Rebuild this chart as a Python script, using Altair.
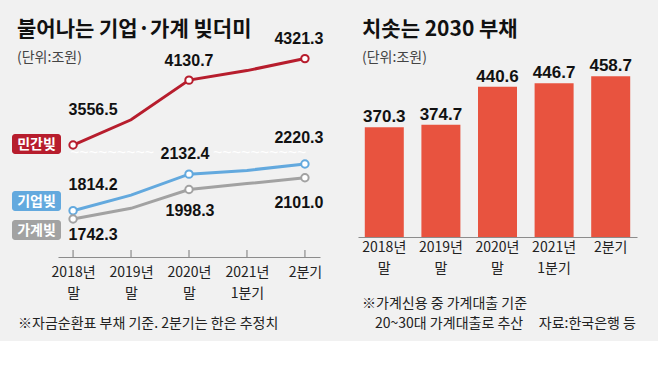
import altair as alt
import pandas as pd

# ---------------- data ----------------
categories = ["2018년 말", "2019년 말", "2020년 말", "2021년 1분기", "2분기"]
series_names = ["민간빚", "기업빚", "가계빚"]
private_debt = [3556.5, 3780.0, 4130.7, 4215.0, 4321.3]     # 민간빚
corp_debt = [1814.2, 1950.0, 2132.4, 2165.0, 2220.3]        # 기업빚
household_debt = [1742.3, 1835.0, 1998.3, 2050.0, 2101.0]   # 가계빚
marked_categories = ["2018년 말", "2020년 말", "2분기"]
youth_debt = [370.3, 374.7, 440.6, 446.7, 458.7]            # 2030 부채

left_title = "불어나는 기업·가계 빚더미"
right_title = "치솟는 2030 부채"
unit_text = "(단위:조원)"
left_note = "※자금순환표 부채 기준. 2분기는 한은 추정치"
right_note_1 = "※가계신용 중 가계대출 기준"
right_note_2 = "20~30대 가계대출로 추산"
source_text = "자료:한국은행 등"

# ---------------- styles ----------------
BG = "#f1f1f1"
COLORS = {"민간빚": "#b71d2d", "기업빚": "#63a9de", "가계빚": "#a2a2a2"}
BAR = "#e8533f"
KFONT = "Noto Sans CJK KR"
NFONT = "Liberation Sans"
AXIS_COLOR = "#8c8c8c"

line_df = pd.DataFrame({
    "cat": categories * 3,
    "series": [s for s in series_names for _ in categories],
    "value": private_debt + corp_debt + household_debt,
})
line_df["label"] = line_df["value"].map(lambda v: f"{v:.1f}")
cat_df = pd.DataFrame({"cat": categories})
bar_df = pd.DataFrame({"cat": categories, "value": youth_debt})
bar_df["label"] = bar_df["value"].map(lambda v: f"{v:.1f}")

upper_scale = dict(domain=[2600, 4500], range=[253.1, 38.4], nice=False, zero=False)
lower_scale = dict(domain=[1400, 2600], range=[258.3, 120.4], nice=False, zero=False)
series_scale = {"민간빚": upper_scale, "기업빚": lower_scale, "가계빚": lower_scale}

label_offsets = {
    ("민간빚", "2018년 말"): (20, -35), ("민간빚", "2020년 말"): (0, -19), ("민간빚", "2분기"): (-6, -20),
    ("기업빚", "2018년 말"): (20, -26), ("기업빚", "2020년 말"): (-4, -20), ("기업빚", "2분기"): (-6, -26),
    ("가계빚", "2018년 말"): (20, 16), ("가계빚", "2020년 말"): (1, 21), ("가계빚", "2분기"): (-6, 25),
}
legend_boxes = {"민간빚": (134, 154), "기업빚": (191, 211), "가계빚": (220, 240)}
wave_segments = [(70, 9), (213, 10)]   # (start x, number of wave periods) of the axis-break mark


def axis_def(offset, pad):
    return alt.Axis(title=None, orient="bottom", offset=offset, domainColor=AXIS_COLOR,
                    domainWidth=1.2, ticks=False, grid=False, labelAngle=0,
                    labelExpr="split(datum.label, ' ')", labelFont=KFONT, labelFontSize=14,
                    labelColor="#222222", labelPadding=pad, labelLineHeight=21,
                    labelBaseline="top", labelOverlap=False, labelFlush=False)


def left_x():
    return alt.X("cat:N", sort=categories,
                 scale=alt.Scale(type="point", range=[58, 320], padding=0.26),
                 axis=axis_def(-84, 8))


def right_x():
    return alt.X("cat:N", sort=categories,
                 scale=alt.Scale(type="band", range=[28, 307], paddingInner=0.311, paddingOuter=0.12),
                 axis=axis_def(-104, 3))


def text_layer(txt, x, y, size=13, weight="normal", color="#333333", align="left", font=KFONT):
    return alt.Chart(pd.DataFrame({"t": [txt]})).mark_text(
        align=align, baseline="alphabetic", font=font, fontSize=size, fontWeight=weight, color=color
    ).encode(text="t:N", x=alt.value(x), y=alt.value(y))


# ---------------- left panel ----------------
left_layers = [
    text_layer(left_title, 17, 36, size=21, weight="bold", color="#111111"),
    text_layer(unit_text, 17, 62, size=14, color="#444444"),
    text_layer(left_note, 18, 328, size=14, color="#222222"),
    alt.Chart(cat_df).mark_rule(color=AXIS_COLOR, strokeWidth=1.2).encode(
        x=left_x(), y=alt.value(250), y2=alt.value(257)),
]
for x0, n in wave_segments:
    left_layers.append(alt.Chart(pd.DataFrame({"t": ["~" * n]})).mark_text(
        align="left", baseline="middle", font=NFONT, fontSize=16, color="white"
    ).encode(text="t:N", x=alt.value(x0), y=alt.value(153)))

for s in series_names:
    sc = alt.Scale(**series_scale[s])
    base = alt.Chart(line_df).transform_filter(alt.datum.series == s)
    left_layers.append(base.mark_line(color=COLORS[s], strokeWidth=3).encode(
        x=left_x(), y=alt.Y("value:Q", scale=sc, axis=None)))
    left_layers.append(base.transform_filter(
        alt.FieldOneOfPredicate(field="cat", oneOf=marked_categories)
    ).mark_point(shape="circle", filled=True, fill="white", stroke=COLORS[s], strokeWidth=2,
                 size=55, opacity=1).encode(
        x=left_x(), y=alt.Y("value:Q", scale=sc, axis=None)))
    for c in marked_categories:
        dx, dy = label_offsets[(s, c)]
        left_layers.append(base.transform_filter(alt.datum.cat == c).mark_text(
            font=NFONT, fontWeight="bold", fontSize=16, color="#111111",
            baseline="middle", align="center", dx=dx, dy=dy
        ).encode(x=left_x(), y=alt.Y("value:Q", scale=sc, axis=None), text="label:N"))

for s in series_names:
    y0, y1 = legend_boxes[s]
    left_layers.append(alt.Chart(pd.DataFrame({"t": [s]})).mark_rect(
        color=COLORS[s], cornerRadius=3).encode(
        x=alt.value(12), x2=alt.value(61), y=alt.value(y0), y2=alt.value(y1)))
    left_layers.append(alt.Chart(pd.DataFrame({"t": [s]})).mark_text(
        font=KFONT, fontWeight="bold", fontSize=14, color="white", align="center", baseline="middle"
    ).encode(text="t:N", x=alt.value(36.5), y=alt.value((y0 + y1) / 2 + 1)))

left = alt.layer(*left_layers).properties(width=330, height=341).resolve_scale(y="independent")

# ---------------- right panel ----------------
ys = alt.Scale(domain=[180, 480], range=[237, 64], nice=False, zero=False)
right_layers = [
    text_layer(right_title, 32, 36, size=21, weight="bold", color="#111111"),
    text_layer(unit_text, 32, 62, size=14, color="#444444"),
    alt.Chart(bar_df).mark_bar(color=BAR).encode(
        x=right_x(), y=alt.Y("value:Q", scale=ys, axis=None), y2=alt.datum(180)),
    alt.Chart(bar_df).mark_text(font=NFONT, fontWeight="bold", fontSize=17, color="#111111",
                                baseline="alphabetic", dy=-5).encode(
        x=right_x(), y=alt.Y("value:Q", scale=ys, axis=None), text="label:N"),
    text_layer(right_note_1, 32, 308, size=14, color="#222222"),
    text_layer(right_note_2, 45, 328, size=14, color="#222222"),
    text_layer(source_text, 306, 328, size=14, color="#222222", align="right"),
]
right = alt.layer(*right_layers).properties(width=328, height=341)

chart = alt.hconcat(left, right, spacing=0).properties(
    padding=0, bounds="flush", background=BG
).configure_view(stroke=None, fill=BG)

chart.save("out.html", embed_options={"renderer": "svg", "actions": False})
